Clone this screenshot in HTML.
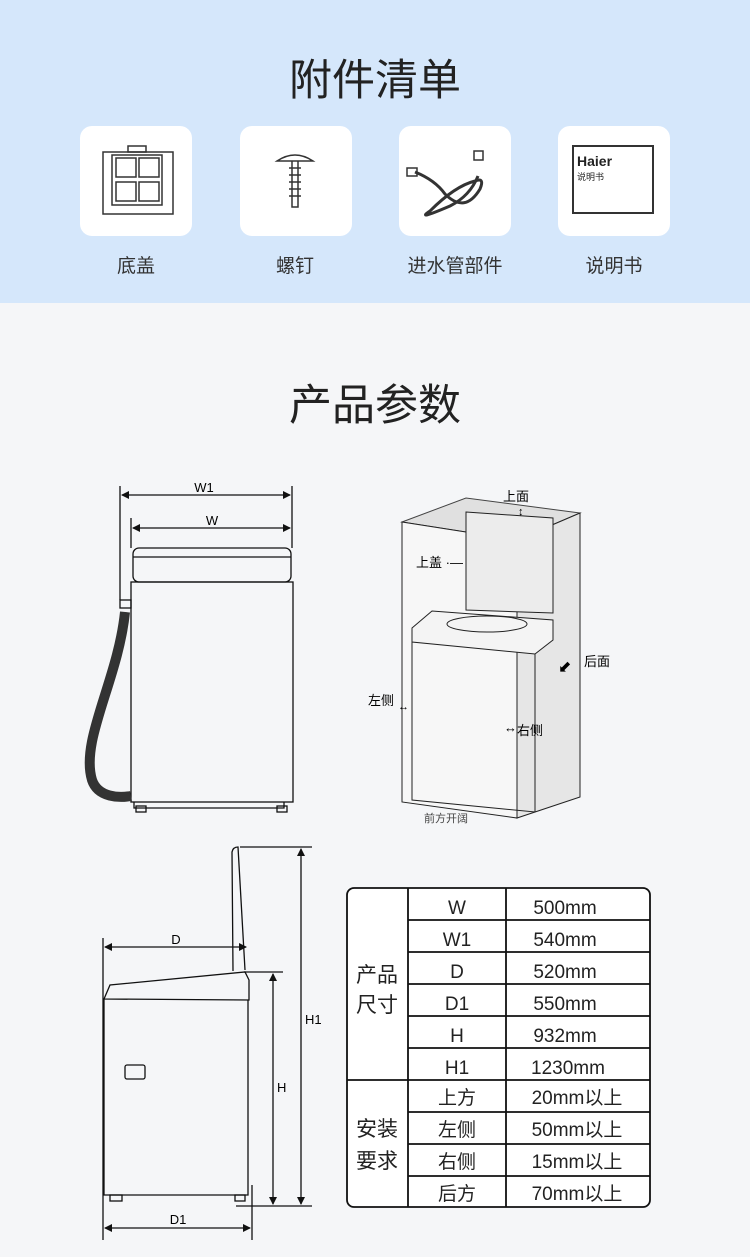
<!DOCTYPE html>
<html><head><meta charset="utf-8"><style>
body{margin:0;width:750px;height:1257px;background:#f5f6f8;font-family:"Liberation Sans","Noto Sans CJK SC",sans-serif;overflow:hidden;position:relative}
.band{position:absolute;left:0;top:0;width:750px;height:303px;background:#d5e7fb}
.t{position:absolute;width:750px;text-align:center;color:#222;font-size:43px}
.box{position:absolute;top:126px;width:112px;height:110px;background:#fff;border-radius:12px}
.lb{position:absolute;top:251px;width:160px;text-align:center;font-size:19px;color:#333}
svg{position:absolute;left:0;top:0}
</style></head><body>
<div class="band"></div>
<div class="t" style="top:46px">附件清单</div>
<div class="box" style="left:80px"></div>
<div class="box" style="left:240px"></div>
<div class="box" style="left:399px"></div>
<div class="box" style="left:558px"></div>
<div class="lb" style="left:56px">底盖</div>
<div class="lb" style="left:215px">螺钉</div>
<div class="lb" style="left:375px">进水管部件</div>
<div class="lb" style="left:534px">说明书</div>
<div class="t" style="top:371px">产品参数</div>
<svg width="750" height="1257" viewBox="0 0 750 1257" font-family="Liberation Sans, Noto Sans CJK SC, sans-serif">
<defs><marker id="a" markerWidth="8" markerHeight="8" refX="7" refY="4" orient="auto-start-reverse" markerUnits="userSpaceOnUse"><path d="M0,0L8,4L0,8z" fill="#111"/></marker></defs>
<g stroke="#333" fill="none" stroke-width="1.5">
<rect x="103" y="152" width="70" height="62"/><rect x="112" y="155" width="50" height="50"/>
<rect x="116" y="158" width="20" height="19"/><rect x="139" y="158" width="20" height="19"/>
<rect x="116" y="182" width="20" height="19"/><rect x="139" y="182" width="20" height="19"/>
<rect x="128" y="146" width="18" height="6"/>
<path d="M277,161 q18,-12 36,0 z"/><path d="M292,161 v46 h6 v-46" /><path d="M289,168h12M289,175h12M289,182h12M289,189h12M289,196h12"/>
<path d="M415,172 q20,8 30,22 q20,20 35,-5 q5,-12 -5,-8 q-20,5 -45,30 q-15,10 20,-5 q20,-10 28,-30" stroke-width="3"/>
<rect x="474" y="151" width="9" height="9"/><rect x="407" y="168" width="10" height="8"/>
<rect x="573" y="146" width="80" height="67" stroke-width="2"/>
</g>
<text x="577" y="166" font-size="14" font-weight="bold" fill="#222">Haier</text>
<text x="577" y="180" font-size="9" fill="#222">说明书</text>
<g stroke="#111" fill="none" stroke-width="1.3">
<line x1="120" y1="486" x2="120" y2="600"/><line x1="292" y1="486" x2="292" y2="548"/>
<line x1="131" y1="518" x2="131" y2="548"/>
<line x1="122" y1="495" x2="290" y2="495" marker-start="url(#a)" marker-end="url(#a)"/>
<line x1="133" y1="528" x2="290" y2="528" marker-start="url(#a)" marker-end="url(#a)"/>
<rect x="133" y="548" width="158" height="34" rx="6"/><line x1="133" y1="557" x2="291" y2="557"/>
<rect x="131" y="582" width="162" height="220"/>
<path d="M134,802v6h150v-6"/><rect x="136" y="806" width="10" height="6"/><rect x="277" y="806" width="10" height="6"/>
<rect x="120" y="600" width="11" height="8"/>
<path d="M125,612 C118,680 80,740 92,780 C98,798 120,798 131,796" stroke="#333" stroke-width="10"/>
</g>
<text x="204" y="492" font-size="13" text-anchor="middle">W1</text>
<text x="212" y="525" font-size="13" text-anchor="middle">W</text>
<g stroke="#222" fill="none" stroke-width="1">
<path d="M402,522 L466,498 L580,513 L517,540 Z" fill="#e0e0e0" stroke="#444"/>
<path d="M517,540 L580,513 L580,797 L517,818 Z" fill="#e6e6e6"/>
<path d="M402,522 L517,540 L517,818 L402,802 Z" fill="#f7f7f7"/>
<path d="M466,512 L553,518 L553,613 L466,610 Z" fill="#ececec"/>
<path d="M412,628 L432,611 L553,620 L553,640 L535,654 L412,642 Z" fill="#f4f4f4"/>
<ellipse cx="487" cy="624" rx="40" ry="8"/>
<path d="M412,642 V800 L535,812 V654"/>
</g>
<text x="503" y="501" font-size="13">上面</text>
<text x="416" y="567" font-size="13">上盖 ·—</text>
<text x="584" y="666" font-size="13">后面</text>
<text x="368" y="705" font-size="13">左侧</text>
<text x="517" y="735" font-size="13">右侧</text>
<text x="424" y="822" font-size="11" fill="#444">前方开阔</text>
<text x="504" y="732" font-size="13">↔</text><text x="398" y="710" font-size="11">↔</text>
<text x="518" y="515" font-size="11">↕</text><text x="558" y="672" font-size="16">⬋</text>
<g stroke="#111" fill="none" stroke-width="1.3">
<line x1="103" y1="938" x2="103" y2="1240"/><line x1="252" y1="1185" x2="252" y2="1240"/>
<line x1="105" y1="947" x2="246" y2="947" marker-start="url(#a)" marker-end="url(#a)"/>
<line x1="105" y1="1228" x2="250" y2="1228" marker-start="url(#a)" marker-end="url(#a)"/>
<line x1="240" y1="847" x2="312" y2="847"/><line x1="244" y1="972" x2="283" y2="972"/><line x1="236" y1="1206" x2="312" y2="1206"/>
<line x1="273" y1="974" x2="273" y2="1204" marker-start="url(#a)" marker-end="url(#a)"/>
<line x1="301" y1="849" x2="301" y2="1204" marker-start="url(#a)" marker-end="url(#a)"/>
<path d="M233,971 L232,852 Q233,847 238,847 L245,970"/>
<path d="M104,999 L110,985 L245,972 L249,980 L249,1000 Z"/>
<path d="M104,999 V1195 H248 V1000"/>
<rect x="125" y="1065" width="20" height="14" rx="2"/>
<rect x="110" y="1195" width="12" height="6"/><rect x="235" y="1195" width="10" height="6"/>
</g>
<text x="176" y="944" font-size="13" text-anchor="middle">D</text>
<text x="178" y="1224" font-size="13" text-anchor="middle">D1</text>
<text x="277" y="1092" font-size="13">H</text>
<text x="305" y="1024" font-size="13">H1</text>
<g stroke="#111" fill="none" stroke-width="1.8">
<rect x="347" y="888" width="303" height="319" rx="7" fill="#fff"/>
<line x1="408" y1="888" x2="408" y2="1207"/><line x1="506" y1="888" x2="506" y2="1207"/>
<line x1="347" y1="1080" x2="650" y2="1080"/>
<path d="M408,920H650M408,952H650M408,984H650M408,1016H650M408,1048H650M408,1112H650M408,1144H650M408,1176H650"/>
</g>
<g font-size="19" fill="#222" text-anchor="middle">
<text x="457" y="914">W</text><text x="457" y="946">W1</text><text x="457" y="978">D</text><text x="457" y="1010">D1</text><text x="457" y="1042">H</text><text x="457" y="1074">H1</text>
<text x="457" y="1104">上方</text><text x="457" y="1136">左侧</text><text x="457" y="1168">右侧</text><text x="457" y="1200">后方</text>
<text x="565" y="914">500mm</text><text x="565" y="946">540mm</text><text x="565" y="978">520mm</text><text x="565" y="1010">550mm</text><text x="565" y="1042">932mm</text><text x="568" y="1074">1230mm</text>
<text x="577" y="1104">20mm以上</text><text x="577" y="1136">50mm以上</text><text x="577" y="1168">15mm以上</text><text x="577" y="1200">70mm以上</text>
<text x="377" y="982" font-size="21">产品</text><text x="377" y="1012" font-size="21">尺寸</text>
<text x="377" y="1136" font-size="21">安装</text><text x="377" y="1168" font-size="21">要求</text>
</g>
</svg>
</body></html>
